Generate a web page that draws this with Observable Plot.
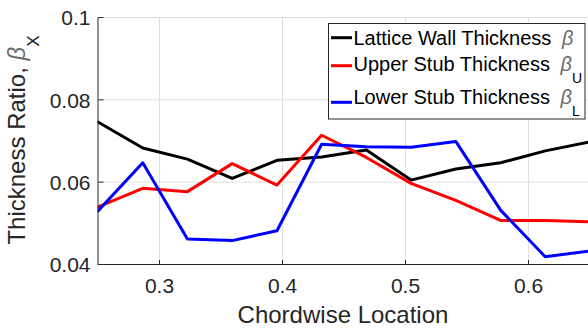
<!DOCTYPE html>
<html>
<head>
<meta charset="utf-8">
<script src="https://cdn.jsdelivr.net/npm/d3@7"></script>
<script src="https://cdn.jsdelivr.net/npm/@observablehq/plot@0.6"></script>
<style>
  body { margin: 0; background: #fff; }
  #chart { width: 588px; height: 329px; overflow: hidden; }
  #chart svg { display: block; }
</style>
</head>
<body>
<div id="chart"></div>
<script>
// Chordwise stations along the blade
const chordLocation = [0.25, 0.2864, 0.3227, 0.3591, 0.3955, 0.4318, 0.4682, 0.5045, 0.5409, 0.5773, 0.6136, 0.65];
// Thickness ratios at each station
const latticeWall = [0.0746, 0.0683, 0.0656, 0.0609, 0.0653, 0.0661, 0.0678, 0.0605, 0.0632, 0.0647, 0.0676, 0.0698];
const upperStub   = [0.0540, 0.0585, 0.0577, 0.0645, 0.0593, 0.0714, 0.0660, 0.0597, 0.0556, 0.0507, 0.0507, 0.0504];
const lowerStub   = [0.0530, 0.0647, 0.0462, 0.0458, 0.0482, 0.0692, 0.0686, 0.0685, 0.0699, 0.0532, 0.0419, 0.0433];

const seriesNames = ["Lattice Wall Thickness", "Upper Stub Thickness", "Lower Stub Thickness"];
const seriesSubscripts = ["", "U", "L"];
const seriesColors = ["#000000", "#ff0000", "#0000ff"];

const xTicks = [0.3, 0.4, 0.5, 0.6];
const xTickLabels = ["0.3", "0.4", "0.5", "0.6"];
const yTicks = [0.04, 0.06, 0.08, 0.1];
const yTickLabels = ["0.04", "0.06", "0.08", "0.1"];

const rows = [];
[latticeWall, upperStub, lowerStub].forEach((vals, s) => {
  vals.forEach((v, i) => rows.push({chord: chordLocation[i], ratio: v, series: seriesNames[s]}));
});

const ink = "#262626";
const gridColor = "#dfdfdf";

const svg = Plot.plot({
  width: 588,
  height: 329,
  marginLeft: 97.5,
  marginRight: -1.5,
  marginTop: 17,
  marginBottom: 65,
  style: {fontFamily: "'Liberation Sans', Arial, sans-serif", fontSize: "21px", color: ink, background: "#fff", overflow: "hidden"},
  x: {domain: [0.25, 0.65]},
  y: {domain: [0.04, 0.1]},
  color: {domain: seriesNames, range: seriesColors},
  marks: [
    Plot.gridX(xTicks, {stroke: gridColor, strokeOpacity: 1}),
    Plot.gridY(yTicks.slice(1), {stroke: gridColor, strokeOpacity: 1}),
    Plot.line(rows, {x: "chord", y: "ratio", z: "series", stroke: "series", strokeWidth: 3, clip: true}),
    Plot.ruleY([0.04], {stroke: ink}),
    Plot.ruleX([0.25], {stroke: ink}),
    // inward tick marks
    Plot.axisX(xTicks, {anchor: "top", frameAnchor: "bottom", tickSize: 5, stroke: ink, fill: "none", label: null}),
    Plot.axisY(yTicks, {anchor: "right", frameAnchor: "left", tickSize: 5, stroke: ink, fill: "none", label: null}),
    // tick labels
    Plot.axisX(xTicks, {tickSize: 0, tickPadding: 13.5, tickFormat: (d, i) => xTickLabels[i], fill: ink, label: null}),
    Plot.axisY(yTicks, {tickSize: 0, tickPadding: 7.5, dy: 1, tickFormat: (d, i) => yTickLabels[i], fill: ink, label: null})
  ]
});
document.getElementById("chart").appendChild(svg);

const s = d3.select(svg);

// Axis titles
s.append("text")
  .attr("x", 343).attr("y", 322.5)
  .attr("text-anchor", "middle").attr("font-size", 24).attr("fill", ink)
  .text("Chordwise Location");

const yt = s.append("text")
  .attr("transform", "translate(25,140) rotate(-90)")
  .attr("text-anchor", "middle").attr("font-size", 24).attr("fill", ink);
yt.append("tspan").text("Thickness Ratio, ");
yt.append("tspan").attr("font-style", "italic").attr("fill", "#6a6a6a").text("β");
yt.append("tspan").attr("font-size", 17).attr("dy", 14).text("X");

// Legend
const lg = s.append("g").attr("text-anchor", "start");
lg.append("rect").attr("x", 328.5).attr("y", 23.5).attr("width", 256.5).attr("height", 95.5)
  .attr("fill", "#fff").attr("stroke", ink).attr("stroke-width", 1);
const lineY = [37.7, 65.7, 102.3];
const baseY = [45, 70.5, 104.3];
seriesNames.forEach((name, i) => {
  lg.append("line").attr("x1", 331).attr("x2", 352).attr("y1", lineY[i]).attr("y2", lineY[i])
    .attr("stroke", seriesColors[i]).attr("stroke-width", 3);
  const t = lg.append("text").attr("x", 353.5).attr("y", baseY[i]).attr("font-size", 20).attr("fill", "#000");
  t.append("tspan").text(name + " ");
  t.append("tspan").attr("dx", 5).attr("font-style", "italic").attr("fill", "#6a6a6a").text("β");
  if (seriesSubscripts[i]) {
    t.append("tspan").attr("font-size", 14).attr("dy", 12).text(seriesSubscripts[i]);
  }
});
</script>
</body>
</html>
